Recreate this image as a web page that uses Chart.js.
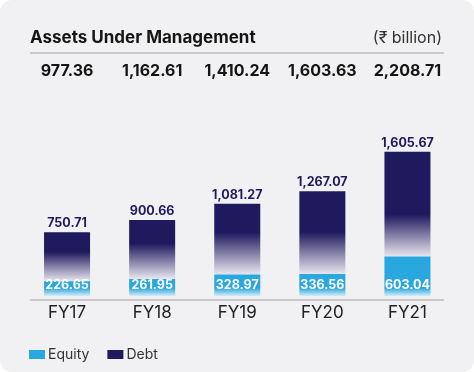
<!DOCTYPE html>
<html>
<head>
<meta charset="utf-8">
<script src="https://cdn.jsdelivr.net/npm/chart.js@4.4.1/dist/chart.umd.min.js"></script>
<style>
  html, body { margin: 0; padding: 0; background: #fff; }
  #card { width: 474px; height: 372px; background: #f1f1f3; border-radius: 12px; overflow: hidden; }
</style>
</head>
<body>
<div id="card"><canvas id="canvas" width="474" height="372"></canvas></div>
<script>
let years = ['FY17', 'FY18', 'FY19', 'FY20', 'FY21'];
let equity = [226.65, 261.95, 328.97, 336.56, 603.04];
let debt = [750.71, 900.66, 1081.27, 1267.07, 1605.67];
let totals = ['977.36', '1,162.61', '1,410.24', '1,603.63', '2,208.71'];
let equityLabels = ['226.65', '261.95', '328.97', '336.56', '603.04'];
let debtLabels = ['750.71', '900.66', '1,081.27', '1,267.07', '1,605.67'];

const NAVY = '#1f1a5e';
const BLUE = '#29a7df';
const FONT = "Inter, 'DejaVu Sans', sans-serif";

// vertical gradient between two pixel rows, or null if the scale isn't ready yet
function vgrad(c, top, bot) {
  if (!isFinite(top) || !isFinite(bot) || bot - top < 1) return null;
  return c.ctx.createLinearGradient(0, top, 0, bot);
}

function debtFill(ctx) {
  let c = ctx.chart;
  let ys = c.scales.y;
  if (ctx.type !== 'data' || !ys) return NAVY;
  let i = ctx.dataIndex;
  let top = ys.getPixelForValue(equity[i] + debt[i]);
  let bot = ys.getPixelForValue(equity[i]);
  let g = vgrad(c, top, bot);
  if (!g) return NAVY;
  let h = bot - top;
  let fade = Math.min(h * 0.6, 42);
  g.addColorStop(0, NAVY);
  g.addColorStop((h - fade) / h, NAVY);
  g.addColorStop(1, '#e8e6ef');
  return g;
}

function equityFill(ctx) {
  let c = ctx.chart;
  let ys = c.scales.y;
  if (ctx.type !== 'data' || !ys) return BLUE;
  let i = ctx.dataIndex;
  let top = ys.getPixelForValue(equity[i]);
  let bot = ys.getPixelForValue(0);
  let g = vgrad(c, top, bot);
  if (!g) return BLUE;
  let h = bot - top;
  g.addColorStop(0, BLUE);
  g.addColorStop(Math.max(0, (h - 8) / h), BLUE);
  g.addColorStop(1, '#d4ecf8');
  return g;
}

const extras = {
  id: 'extras',
  beforeDatasetsDraw(chart) {
    let c = chart.ctx;
    let y0 = chart.scales.y.getPixelForValue(0);
    c.save();
    c.strokeStyle = '#c9c9cc';
    c.lineWidth = 2;
    c.beginPath();
    c.moveTo(30, y0 + 4);
    c.lineTo(444, y0 + 4);
    c.stroke();
    c.restore();
  },
  afterDraw(chart) {
    let c = chart.ctx;
    let xs = chart.scales.x;
    let ys = chart.scales.y;
    c.save();
    // heading
    c.fillStyle = '#151515';
    c.textBaseline = 'alphabetic';
    c.textAlign = 'left';
    c.font = '700 17px ' + FONT;
    c.fillText('Assets Under Management', 30, 43);
    c.font = '400 16px ' + FONT;
    c.fillStyle = '#333';
    c.textAlign = 'right';
    c.fillText('(\u20b9 billion)', 442, 43);
    c.strokeStyle = '#c9c9cc';
    c.lineWidth = 2;
    c.beginPath();
    c.moveTo(30, 53);
    c.lineTo(444, 53);
    c.stroke();

    // totals row
    c.textAlign = 'center';
    c.textBaseline = 'middle';
    c.fillStyle = '#151515';
    c.font = '700 16px ' + FONT;
    totals.forEach((t, i) => c.fillText(t, xs.getPixelForValue(i), 71));

    // value labels
    c.font = '700 12.5px ' + FONT;
    years.forEach((y, i) => {
      let x = xs.getPixelForValue(i);
      c.fillStyle = NAVY;
      c.textBaseline = 'alphabetic';
      c.fillText(debtLabels[i], x, ys.getPixelForValue(equity[i] + debt[i]) - 5);
      c.fillStyle = '#ffffff';
      c.textBaseline = 'middle';
      c.fillText(equityLabels[i], x, ys.getPixelForValue(0) - 11);
    });

    // legend
    c.textAlign = 'left';
    c.textBaseline = 'middle';
    c.font = '400 14px ' + FONT;
    let lx = 29;
    chart.data.datasets.forEach((ds) => {
      c.fillStyle = ds.legendColor;
      c.fillRect(lx, 350, 16, 9);
      c.fillStyle = '#333';
      c.fillText(ds.label, lx + 19, 355);
      lx += 19 + c.measureText(ds.label).width + 18;
    });
    c.restore();
  }
};

new Chart(document.getElementById('canvas').getContext('2d'), {
  type: 'bar',
  data: {
    labels: years,
    datasets: [
      { label: 'Equity', data: equity, backgroundColor: equityFill, legendColor: BLUE },
      { label: 'Debt', data: debt, backgroundColor: debtFill, legendColor: NAVY }
    ]
  },
  options: {
    responsive: false,
    animation: false,
    layout: { padding: { top: 100, left: 24.5, right: 24, bottom: 41.6 } },
    datasets: { bar: { categoryPercentage: 0.8, barPercentage: 0.676 } },
    scales: {
      x: {
        stacked: true,
        grid: { display: false, drawTicks: false },
        border: { display: false },
        ticks: { padding: 7, color: '#222', font: { family: FONT, size: 17, weight: '400' } }
      },
      y: { stacked: true, display: false, min: 0, max: 3000 }
    },
    plugins: { legend: { display: false }, tooltip: { enabled: false } }
  },
  plugins: [extras]
});
</script>
</body>
</html>
